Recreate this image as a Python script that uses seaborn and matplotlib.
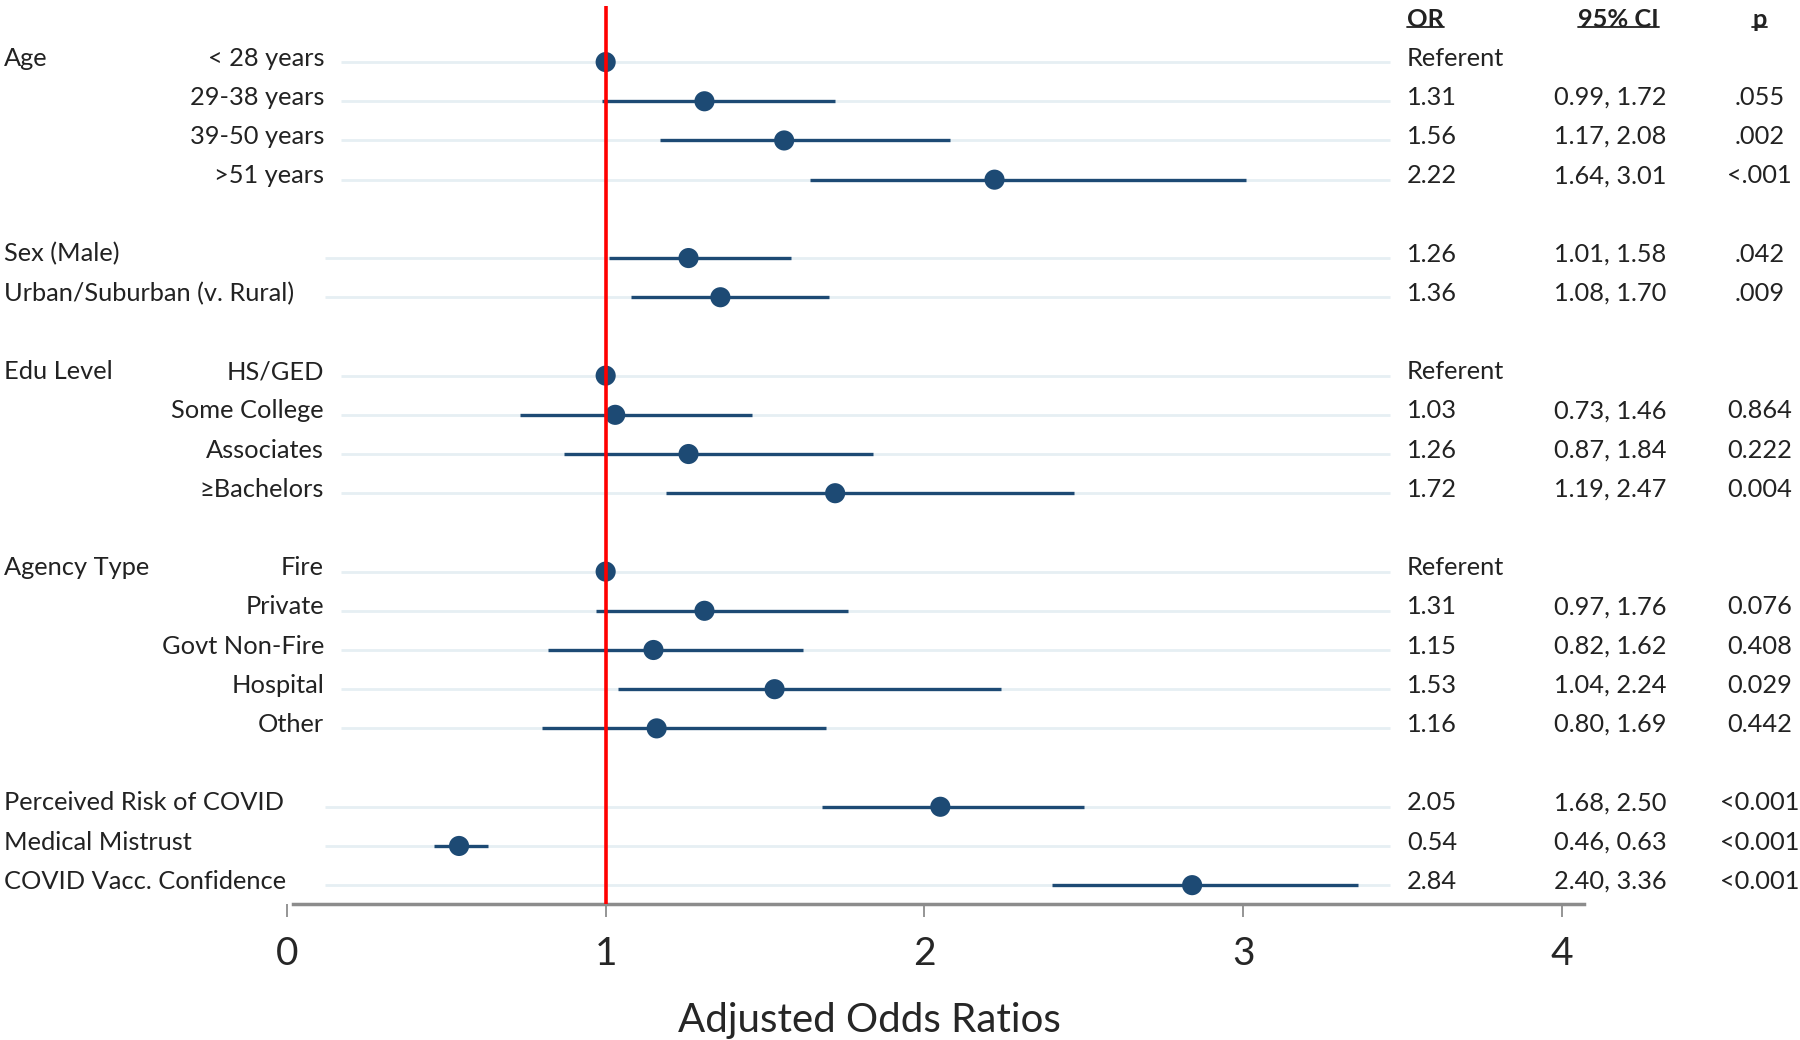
import numpy as np
import pandas as pd
import matplotlib
matplotlib.use("Agg")
import matplotlib.pyplot as plt
import matplotlib.transforms as mtransforms
from matplotlib.lines import Line2D
import seaborn as sns

sns.set_theme(style="white")
plt.rcParams['font.family'] = ['Lato', 'DejaVu Sans']

# ---- data ----
variables = ["Age", "Age", "Age", "Age",
             "Sex (Male)", "Urban/Suburban (v. Rural)",
             "Edu Level", "Edu Level", "Edu Level", "Edu Level",
             "Agency Type", "Agency Type", "Agency Type", "Agency Type", "Agency Type",
             "Perceived Risk of COVID", "Medical Mistrust", "COVID Vacc. Confidence"]
levels = ["< 28 years", "29-38 years", "39-50 years", ">51 years",
          "", "",
          "HS/GED", "Some College", "Associates", "≥Bachelors",
          "Fire", "Private", "Govt Non-Fire", "Hospital", "Other",
          "", "", ""]
block = [0, 0, 0, 0, 1, 1, 2, 2, 2, 2, 3, 3, 3, 3, 3, 4, 4, 4]
odds = [1.00, 1.31, 1.56, 2.22, 1.26, 1.36, 1.00, 1.03, 1.26, 1.72,
        1.00, 1.31, 1.15, 1.53, 1.16, 2.05, 0.54, 2.84]
ci_low = [np.nan, 0.99, 1.17, 1.64, 1.01, 1.08, np.nan, 0.73, 0.87, 1.19,
          np.nan, 0.97, 0.82, 1.04, 0.80, 1.68, 0.46, 2.40]
ci_high = [np.nan, 1.72, 2.08, 3.01, 1.58, 1.70, np.nan, 1.46, 1.84, 2.47,
           np.nan, 1.76, 1.62, 2.24, 1.69, 2.50, 0.63, 3.36]
p_text = ["", ".055", ".002", "<.001", ".042", ".009",
          "", "0.864", "0.222", "0.004",
          "", "0.076", "0.408", "0.029", "0.442",
          "<0.001", "<0.001", "<0.001"]
xticks = [0, 1, 2, 3, 4]

df = pd.DataFrame({"variable": variables, "level": levels, "block": block,
                   "odds": odds, "lo": ci_low, "hi": ci_high, "p": p_text})
df["pos"] = np.arange(len(df)) + df["block"]   # one blank row between groups
df["or_txt"] = [("Referent" if np.isnan(l) else "%.2f" % o) for o, l in zip(df.odds, df.lo)]
df["ci_txt"] = [("" if np.isnan(l) else "%.2f, %.2f" % (l, h)) for l, h in zip(df.lo, df.hi)]

navy = "#1d4a74"
fs = 18.3

fig = plt.figure(figsize=(18, 10.4), dpi=100)
ax = fig.add_axes([0.1594, 0.1308, 0.7207, 0.8634])

# light row guides
starts = np.where(df.level != "", 0.17, 0.12)
ax.hlines(df.pos, starts, 3.46, color="#e6eff3", lw=2, zorder=1)

# confidence intervals + points
ci = df.dropna()
ax.hlines(ci.pos, ci.lo, ci.hi, color=navy, lw=2.4, zorder=2)
sns.scatterplot(data=df, x="odds", y="pos", ax=ax, color=navy, s=210,
                edgecolor="none", zorder=3, legend=False)
ax.axvline(1, color="#ff0000", lw=2.6, zorder=4)

ax.set_xlim(0, 4.07)
ax.set_ylim(21.48, -1.43)
ax.set_xticks(xticks)
ax.set_xticklabels([str(t) for t in xticks])
ax.set_yticks([])
ax.set_ylabel("")
ax.set_xlabel("Adjusted Odds Ratios", fontsize=29)
ax.xaxis.set_label_coords(0.449, -0.109)
for s in ["top", "left", "right"]:
    ax.spines[s].set_visible(False)
ax.spines["bottom"].set_color("#8c8c8c")
ax.spines["bottom"].set_linewidth(2.5)
ax.spines["bottom"].set_bounds(0.02, 4.07)
ax.tick_params(axis="x", bottom=True, length=9, width=1.3, color="#8c8c8c",
               pad=14, labelsize=28)

# left labels and right-hand table
tr = mtransforms.blended_transform_factory(fig.transFigure, ax.transData)
txt_col = "#222222"
prev = None
for _, r in df.iterrows():
    y = r.pos - 0.1
    if r.variable != prev:
        ax.text(0.002, y, r.variable, transform=tr, ha="left", va="center",
                fontsize=fs, color=txt_col)
    prev = r.variable
    if r.level:
        ax.text(0.180, y, r.level, transform=tr, ha="right", va="center",
                fontsize=fs, color=txt_col)
    ax.text(0.7817, y, r.or_txt, transform=tr, ha="left", va="center",
            fontsize=fs, color=txt_col)
    ax.text(0.8945, y, r.ci_txt, transform=tr, ha="center", va="center",
            fontsize=fs, color=txt_col)
    ax.text(0.9775, y, r.p, transform=tr, ha="center", va="center",
            fontsize=fs, color=txt_col)

# underlined column headers
heads = [ax.text(0.7817, -1.08, "OR", transform=tr, ha="left", va="center",
                 fontsize=fs, fontweight="bold", color=txt_col),
         ax.text(0.899, -1.08, "95% CI", transform=tr, ha="center", va="center",
                 fontsize=fs, fontweight="bold", color=txt_col),
         ax.text(0.9775, -1.08, "p", transform=tr, ha="center", va="center",
                 fontsize=fs, fontweight="bold", color=txt_col)]
fig.canvas.draw()
rend = fig.canvas.get_renderer()
for h in heads:
    bb = h.get_window_extent(rend).transformed(fig.transFigure.inverted())
    yl = bb.y0 + 0.004
    fig.add_artist(Line2D([bb.x0, bb.x1], [yl, yl], transform=fig.transFigure,
                          color=txt_col, lw=1.3))

fig.savefig("out.png", dpi=100, facecolor="white")
